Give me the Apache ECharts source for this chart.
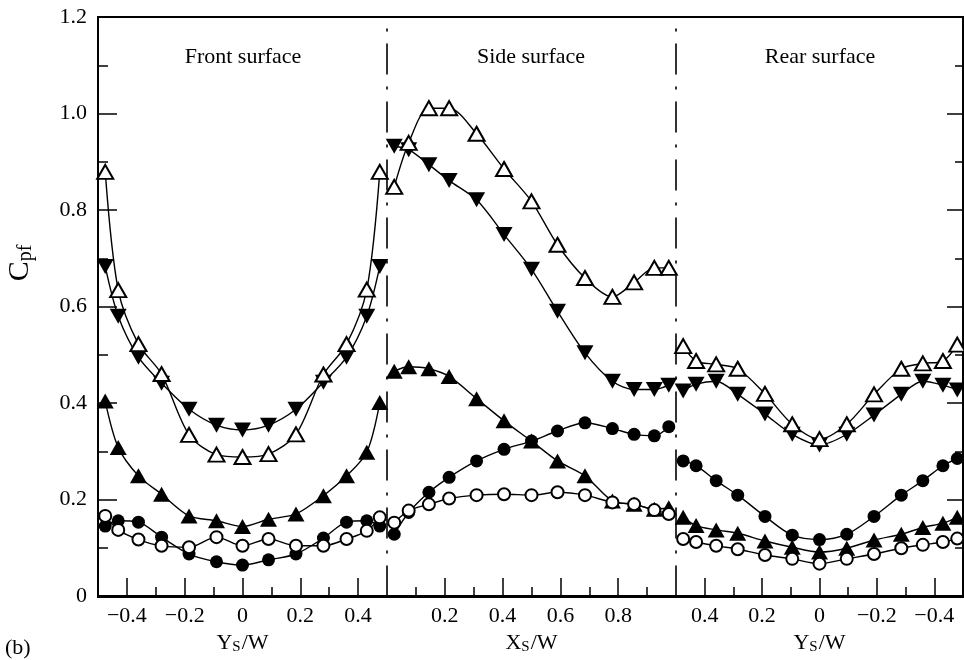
<!DOCTYPE html>
<html>
<head>
<meta charset="utf-8">
<script src="https://cdn.jsdelivr.net/npm/echarts@6/dist/echarts.min.js"></script>
<style>
  html, body { margin: 0; padding: 0; background: #fff; }
  #chart { width: 964px; height: 660px; }
</style>
</head>
<body>
<div id="chart"></div>
<script>
// front surface, Ys/W
const frontX = [-0.475, -0.43, -0.36, -0.28, -0.185, -0.09, 0, 0.09, 0.185, 0.28, 0.36, 0.43, 0.475];
const frontOpenTri = [0.879, 0.634, 0.522, 0.46, 0.334, 0.293, 0.288, 0.294, 0.335, 0.459, 0.522, 0.635, 0.879];
const frontInvTri = [0.683, 0.58, 0.495, 0.441, 0.387, 0.354, 0.344, 0.354, 0.387, 0.443, 0.495, 0.58, 0.683];
const frontTri = [0.404, 0.308, 0.249, 0.211, 0.166, 0.156, 0.144, 0.159, 0.17, 0.208, 0.249, 0.298, 0.401];
const frontDot = [0.145, 0.156, 0.153, 0.122, 0.087, 0.071, 0.064, 0.075, 0.087, 0.12, 0.153, 0.156, 0.145];
const frontCircle = [0.166, 0.137, 0.117, 0.104, 0.101, 0.122, 0.104, 0.118, 0.104, 0.104, 0.118, 0.135, 0.163];

// side surface, Xs/W
const sideX = [0.025, 0.075, 0.145, 0.215, 0.31, 0.405, 0.5, 0.59, 0.685, 0.78, 0.855, 0.925, 0.975];
const sideOpenTri = [0.848, 0.939, 1.011, 1.011, 0.958, 0.885, 0.818, 0.728, 0.659, 0.62, 0.65, 0.68, 0.68];
const sideInvTri = [0.932, 0.925, 0.894, 0.861, 0.821, 0.749, 0.677, 0.59, 0.504, 0.445, 0.428, 0.428, 0.437];
const sideTri = [0.466, 0.475, 0.471, 0.455, 0.409, 0.363, 0.321, 0.28, 0.249, 0.197, 0.19, 0.18, 0.183];
const sideDot = [0.128, 0.173, 0.215, 0.246, 0.28, 0.304, 0.321, 0.342, 0.359, 0.347, 0.335, 0.332, 0.351];
const sideCircle = [0.152, 0.177, 0.19, 0.202, 0.209, 0.211, 0.209, 0.215, 0.209, 0.194, 0.19, 0.178, 0.17];

// rear surface, Ys/W (axis reversed)
const rearX = [0.475, 0.43, 0.36, 0.285, 0.19, 0.095, 0, -0.095, -0.19, -0.285, -0.36, -0.43, -0.48];
const rearOpenTri = [0.518, 0.487, 0.48, 0.471, 0.419, 0.356, 0.325, 0.356, 0.418, 0.471, 0.482, 0.487, 0.521];
const rearInvTri = [0.425, 0.439, 0.445, 0.418, 0.377, 0.335, 0.313, 0.335, 0.375, 0.418, 0.445, 0.437, 0.427];
const rearTri = [0.163, 0.146, 0.137, 0.13, 0.114, 0.101, 0.091, 0.099, 0.116, 0.128, 0.142, 0.151, 0.163];
const rearDot = [0.28, 0.27, 0.239, 0.209, 0.165, 0.126, 0.117, 0.128, 0.165, 0.209, 0.239, 0.27, 0.285];
const rearCircle = [0.118, 0.112, 0.104, 0.097, 0.085, 0.077, 0.067, 0.077, 0.087, 0.099, 0.106, 0.112, 0.119];

// tick labels
const ysMajor = [-0.4, -0.2, 0, 0.2, 0.4];
const ysMinor = [-0.3, -0.1, 0.1, 0.3];
const xsMajor = [0.2, 0.4, 0.6, 0.8];
const xsMinor = [0.1, 0.3, 0.5, 0.7, 0.9];
const panelTitles = ['Front surface', 'Side surface', 'Rear surface'];

const FONT = 'Liberation Serif';
const chart = echarts.init(document.getElementById('chart'));

const fmtX = v => (v === 0 ? '0' : v.toFixed(1).replace('-', '\u2212'));
const dashDot = [30, 13, 2, 13];

const grids = [
  { left: 98, width: 289, top: 17, height: 580 },
  { left: 387, width: 289, top: 17, height: 580 },
  { left: 676, width: 287, top: 17, height: 580 },
  // outer frame
  { left: 98, width: 865, top: 17, height: 580, show: true, borderColor: '#000', borderWidth: 2, backgroundColor: 'transparent' }
];

function mainX(grid, min, max, major, nameLetter, inverse) {
  return {
    type: 'value', gridIndex: grid, position: 'bottom', min: min, max: max, inverse: !!inverse,
    axisLine: { show: true, onZero: false, lineStyle: { color: '#000', width: 2 } },
    axisTick: { show: true, inside: true, length: 18, customValues: major, lineStyle: { color: '#000', width: 1.5 } },
    axisLabel: { customValues: major, formatter: fmtX, color: '#000', fontFamily: FONT, fontSize: 22, margin: 9 },
    splitLine: { show: false },
    name: '{a|' + nameLetter + '}{s|S}{a|/W}',
    nameLocation: 'middle', nameGap: 36,
    nameTextStyle: {
      rich: {
        a: { fontFamily: FONT, fontSize: 22, color: '#000' },
        s: { fontFamily: FONT, fontSize: 15, color: '#000', padding: [8, 1, 0, 0] }
      }
    }
  };
}
function minorX(grid, min, max, minor, inverse) {
  return {
    type: 'value', gridIndex: grid, position: 'bottom', min: min, max: max, inverse: !!inverse,
    axisLine: { show: false, onZero: false },
    axisTick: { show: true, inside: true, length: 9, customValues: minor, lineStyle: { color: '#000', width: 1.5 } },
    axisLabel: { show: false },
    splitLine: { show: false }
  };
}

const xAxes = [
  mainX(0, -0.5, 0.5, ysMajor, 'Y'), minorX(0, -0.5, 0.5, ysMinor),
  mainX(1, 0, 1, xsMajor, 'X'), minorX(1, 0, 1, xsMinor),
  mainX(2, -0.5, 0.5, ysMajor, 'Y', true), minorX(2, -0.5, 0.5, ysMinor, true),
  { type: 'value', gridIndex: 3, show: false }
];

const yBase = { type: 'value', min: 0, max: 1.2, interval: 0.2, splitLine: { show: false } };
const yAxes = [
  Object.assign({}, yBase, {
    gridIndex: 0, position: 'left',
    axisLine: { show: true, onZero: false, lineStyle: { color: '#000', width: 2 } },
    axisTick: { show: true, inside: true, length: 19, lineStyle: { color: '#000', width: 1.5 } },
    minorTick: { show: true, splitNumber: 2, length: 10, lineStyle: { color: '#000', width: 1.5 } },
    axisLabel: { color: '#000', fontFamily: FONT, fontSize: 22, margin: 11,
      formatter: v => (v === 0 ? '0' : v.toFixed(1)) }
  }),
  Object.assign({}, yBase, {
    gridIndex: 1, position: 'left',
    axisLine: { show: true, onZero: false, lineStyle: { color: '#000', width: 1.6, type: dashDot } },
    axisTick: { show: false }, axisLabel: { show: false }
  }),
  Object.assign({}, yBase, {
    gridIndex: 2, position: 'left',
    axisLine: { show: true, onZero: false, lineStyle: { color: '#000', width: 1.6, type: dashDot } },
    axisTick: { show: false }, axisLabel: { show: false }
  }),
  Object.assign({}, yBase, {
    gridIndex: 2, position: 'right',
    axisLine: { show: false, onZero: false },
    axisTick: { show: true, inside: true, length: 16, lineStyle: { color: '#000', width: 1.5 } },
    minorTick: { show: true, splitNumber: 2, length: 8, lineStyle: { color: '#000', width: 1.5 } },
    axisLabel: { show: false }
  }),
  { type: 'value', gridIndex: 3, show: false }
];

const styles = {
  dot: { symbol: 'circle', symbolSize: 13, fill: '#000', rotate: 0 },
  tri: { symbol: 'triangle', symbolSize: [17, 15], fill: '#000', rotate: 0 },
  invTri: { symbol: 'triangle', symbolSize: [17, 15], fill: '#000', rotate: 180 },
  circle: { symbol: 'circle', symbolSize: 12, fill: '#fff', rotate: 0 },
  openTri: { symbol: 'triangle', symbolSize: [16, 14], fill: '#fff', rotate: 0 }
};

const panels = [
  { x: frontX, xi: 0, yi: 0, sets: { dot: frontDot, tri: frontTri, invTri: frontInvTri, circle: frontCircle, openTri: frontOpenTri } },
  { x: sideX, xi: 2, yi: 1, sets: { dot: sideDot, tri: sideTri, invTri: sideInvTri, circle: sideCircle, openTri: sideOpenTri } },
  { x: rearX, xi: 4, yi: 2, sets: { dot: rearDot, tri: rearTri, invTri: rearInvTri, circle: rearCircle, openTri: rearOpenTri } }
];

const series = [];
panels.forEach(p => {
  ['dot', 'tri', 'invTri', 'circle', 'openTri'].forEach(key => {
    const st = styles[key];
    series.push({
      type: 'line',
      xAxisIndex: p.xi, yAxisIndex: p.yi,
      data: p.x.map((xv, i) => [xv, p.sets[key][i]]),
      smooth: 0.3,
      symbol: st.symbol, symbolSize: st.symbolSize, symbolRotate: st.rotate,
      showAllSymbol: true,
      lineStyle: { color: '#000', width: 1.4 },
      itemStyle: { color: st.fill, borderColor: '#000', borderWidth: st.fill === '#fff' ? 2 : 0 },
      emphasis: { disabled: true },
      animation: false
    });
  });
});

const titleX = [243, 531, 820];
const graphics = panelTitles.map((t, i) => ({
  type: 'text', x: titleX[i], y: 57,
  style: { text: t, font: '22px "' + FONT + '"', fill: '#000', align: 'center', verticalAlign: 'middle' }
}));
graphics.push({
  type: 'text', x: 20, y: 263, rotation: Math.PI / 2,
  style: {
    text: '{c|C}{s|pf}', align: 'center', verticalAlign: 'middle',
    rich: {
      c: { fontFamily: FONT, fontSize: 30, fill: '#000' },
      s: { fontFamily: FONT, fontSize: 20, fill: '#000', padding: [12, 0, 0, 0] }
    }
  }
});
graphics.push({
  type: 'text', x: 5, y: 648,
  style: { text: '(b)', font: '22px "' + FONT + '"', fill: '#000', align: 'left', verticalAlign: 'middle' }
});

chart.setOption({
  backgroundColor: '#fff',
  animation: false,
  grid: grids,
  xAxis: xAxes,
  yAxis: yAxes,
  series: series,
  graphic: graphics
});
</script>
</body>
</html>
